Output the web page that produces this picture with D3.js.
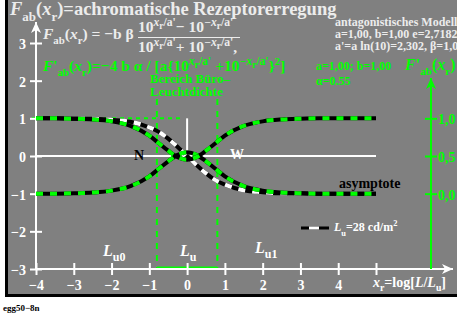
<!DOCTYPE html>
<head>
  <meta charset="utf-8">
  <script src="https://d3js.org/d3.v7.min.js"></script>
  <style>
    body { margin: 0; background: white; }
    svg { display: block; }
    text { font-family: "Liberation Serif", "Times New Roman", serif; font-weight: bold; }
    .axis path { display: none; }
  </style>
</head>

<body>
  <svg width="457" height="316"></svg>

  <script>
    const xVals = [-4, -3.5, -3, -2.5, -2, -1.5, -1, -0.75, -0.5, -0.25, 0, 0.25, 0.5, 0.75, 1, 1.5, 2, 2.5, 3, 3.5, 4, 4.5, 5];
    const fab = [1.00, 1.00, 0.99, 0.99, 0.96, 0.91, 0.76, 0.64, 0.46, 0.24, 0, -0.24, -0.46, -0.64, -0.76, -0.91, -0.96, -0.99, -0.99, -1.00, -1.00, -1.00, -1.00];
    const derivLow = [-1.00, -1.00, -0.99, -0.97, -0.92, -0.80, -0.54, -0.34, -0.14, 0.03, 0.10, 0.03, -0.14, -0.34, -0.54, -0.80, -0.92, -0.97, -0.99, -1.00, -1.00, -1.00, -1.00];
    const derivHigh = [1.00, 1.00, 0.99, 0.97, 0.92, 0.80, 0.54, 0.34, 0.14, -0.03, -0.10, -0.03, 0.14, 0.34, 0.54, 0.80, 0.92, 0.97, 0.99, 1.00, 1.00, 1.00, 1.00];
    const xTicks = [-4, -3, -2, -1, 0, 1, 2, 3, 4, 5];
    const xTickLabels = ['−4', '−3', '−2', '−1', '0', '1', '2', '3', '4', ''];
    const yTicks = [-3, -2, -1, 0, 1, 2, 3];
    const yTickLabels = ['−3', '−2', '−1', '0', '1', '2', '3'];
    const rightTicks = [0, 0.5, 1];
    const rightTickLabels = ['0,0', '0,5', '1,0'];
    const officeRange = [-0.8, 0.8];

    const svg = d3.select('svg');
    const W = 457, H = 316;
    const grey = '#808080', green = '#00ff00', light = '#ececec';

    svg.append('rect').attr('x', 5).attr('y', 0).attr('width', W - 5).attr('height', 297).attr('fill', 'black');
    svg.append('rect').attr('x', 8).attr('y', 0).attr('width', W - 8).attr('height', 294).attr('fill', grey);

    const x = d3.scaleLinear().domain([-4, 5]).range([36, 376]);
    const y = d3.scaleLinear().domain([-3, 3]).range([269, 43]);
    const yR = d3.scaleLinear().domain([0, 1]).range([y(-1), y(1)]);

    // rich text helper: parts = [text, level(em, + is down), italic, scale]
    const rich = (px, py, parts, size, fill, anchor) => {
      const t = svg.append('text').attr('x', px).attr('y', py).attr('font-weight', 'bold')
        .attr('font-size', size).attr('fill', fill).attr('text-anchor', anchor || 'start');
      let off = 0;
      parts.forEach(([s, lvl = 0, it = 0, sc = 1]) => {
        const target = lvl * size;
        const ts = t.append('tspan').text(s).attr('dy', target - off);
        off = target;
        if (it) ts.attr('font-style', 'italic');
        if (sc !== 1) ts.attr('font-size', size * sc);
      });
      return t;
    };
    const expo = (sign) => [[sign + 'x', -0.4, 1, 0.75], ['r', -0.22, 0, 0.6], ['/a\'', -0.4, 0, 0.75]];

    // title and formulas
    rich(10, 15, [['F', 0, 1], ['ab', 0.3, 0, 0.7], ['(', 0], ['x', 0, 1], ['r', 0.3, 0, 0.7], [')=achromatische Rezeptorerregung', 0]], 18.5, light);
    rich(43, 39, [['F', 0, 1], ['ab', 0.3, 0, 0.7], ['(', 0], ['x', 0, 1], ['r', 0.3, 0, 0.7], [') = −b β', 0]], 15.5, light);
    rich(138, 32, [['10', 0], ...expo(''), ['− 10', 0], ...expo('−')], 15.5, light);
    rich(138, 52, [['10', 0], ...expo(''), ['+ 10', 0], ...expo('−'), [',', 0]], 15.5, light);
    svg.append('line').attr('x1', 138).attr('x2', 240).attr('y1', 37.5).attr('y2', 37.5)
      .attr('stroke', light).attr('stroke-width', 1);
    rich(43, 71, [['F', 0, 1], ['\'', 0], ['ab', 0.3, 0, 0.7], ['(', 0], ['x', 0, 1], ['r', 0.3, 0, 0.7],
      [')=−4 b α / [a{10', 0], ...expo(''), [' +10', 0], ...expo('−'), ['}', 0], ['2', -0.4, 0, 0.7], [']', 0]], 15.5, green);

    rich(335, 26, [['antagonistisches Modell']], 12, light);
    rich(335, 38, [['a=1,00, b=1,00 e=2,7182']], 12, light);
    rich(335, 50, [['a\'=a ln(10)=2,302, β=1,0']], 12, light);
    rich(316, 70, [['a=1,00; b=1,00']], 12, green);
    rich(316, 85, [['α=0.55']], 12, green);
    rich(405, 70, [['F', 0, 1], ['\'', 0], ['ab', 0.3, 0, 0.7], ['(', 0], ['x', 0, 1], ['r', 0.3, 0, 0.7], [')', 0]], 16, green);
    rich(150, 83, [['Bereich Büro–']], 13, green);
    rich(150, 96, [['Leuchtdichte']], 13, green);

    // office luminance range
    officeRange.forEach(v => {
      svg.append('line').attr('x1', x(v)).attr('x2', x(v)).attr('y1', 99).attr('y2', y(-3))
        .attr('stroke', green).attr('stroke-width', 2).attr('stroke-dasharray', '6,6');
    });
    svg.append('line').attr('x1', x(officeRange[0])).attr('x2', x(officeRange[1]))
      .attr('y1', y(-3) - 1).attr('y2', y(-3) - 1).attr('stroke', green).attr('stroke-width', 3);
    svg.append('line').attr('x1', 32).attr('x2', 183).attr('y1', y(1)).attr('y2', y(1))
      .attr('stroke', green).attr('stroke-width', 2).attr('stroke-dasharray', '4,4');

    // white guide lines
    svg.append('line').attr('x1', x(-4)).attr('x2', x(5)).attr('y1', y(0)).attr('y2', y(0))
      .attr('stroke', 'white').attr('stroke-width', 2);
    svg.append('line').attr('x1', x(0)).attr('x2', x(0)).attr('y1', y(1)).attr('y2', y(0))
      .attr('stroke', 'white').attr('stroke-width', 2);

    // axes
    const arrow = (x1, y1, x2, y2, col) => {
      svg.append('line').attr('x1', x1).attr('y1', y1).attr('x2', x2).attr('y2', y2)
        .attr('stroke', col).attr('stroke-width', 2);
      const horiz = y1 === y2;
      const pts = horiz ? [[x2, y2], [x2 - 11, y2 - 5], [x2 - 8, y2], [x2 - 11, y2 + 5]]
                        : [[x2, y2], [x2 - 5, y2 + 11], [x2, y2 + 8], [x2 + 5, y2 + 11]];
      svg.append('polygon').attr('points', pts.join(' ')).attr('fill', col);
    };
    arrow(x(-4), y(-3), 453, y(-3), 'white');
    arrow(x(-4), y(-3), x(-4), 22, 'white');
    arrow(431, y(-3), 431, 78, green);

    const xAxis = svg.append('g').attr('class', 'axis').attr('transform', `translate(0,${y(-3)})`)
      .call(d3.axisBottom(x).tickValues(xTicks).tickFormat((d, i) => xTickLabels[i]).tickSize(6).tickPadding(2));
    xAxis.selectAll('line').attr('y1', -6).attr('stroke', 'white').attr('stroke-width', 2);
    xAxis.selectAll('text').attr('fill', 'white').attr('font-size', 14).attr('dy', '0.95em');

    const yAxis = svg.append('g').attr('class', 'axis').attr('transform', `translate(${x(-4)},0)`)
      .call(d3.axisLeft(y).tickValues(yTicks).tickFormat((d, i) => yTickLabels[i]).tickSize(6).tickPadding(4));
    yAxis.selectAll('line').attr('x1', 6).attr('stroke', 'white').attr('stroke-width', 2);
    yAxis.selectAll('text').attr('fill', 'white').attr('font-size', 14).attr('dy', '0.4em');

    const rAxis = svg.append('g').attr('class', 'axis').attr('transform', 'translate(431,0)')
      .call(d3.axisRight(yR).tickValues(rightTicks).tickFormat((d, i) => rightTickLabels[i]).tickSize(6).tickPadding(1));
    rAxis.selectAll('line').attr('x1', -6).attr('stroke', green).attr('stroke-width', 2);
    rAxis.selectAll('text').attr('fill', green).attr('font-size', 14).attr('dy', '0.4em');

    // curves
    const line = d3.line().x(d => x(d[0])).y(d => y(d[1])).curve(d3.curveMonotoneX);
    const dashed = (vals, col) => {
      const pts = xVals.map((v, i) => [v, vals[i]]);
      svg.append('path').attr('d', line(pts)).attr('fill', 'none').attr('stroke', 'black').attr('stroke-width', 4);
      svg.append('path').attr('d', line(pts)).attr('fill', 'none').attr('stroke', col).attr('stroke-width', 4)
        .attr('stroke-dasharray', '7,7');
    };
    dashed(fab, 'white');
    dashed(derivLow, green);
    dashed(derivHigh, green);

    // labels in plot
    rich(134, 160, [['N']], 14, 'black');
    rich(230, 159, [['W']], 14, 'white');
    rich(339, 188, [['asymptote']], 14, 'black');
    rich(103, 256, [['L', 0, 1], ['u0', 0.3, 0, 0.75]], 16, 'white');
    rich(180, 256, [['L', 0, 1], ['u', 0.3, 0, 0.75]], 16, 'white');
    rich(255, 253, [['L', 0, 1], ['u1', 0.3, 0, 0.75]], 16, 'white');
    rich(373, 287, [['x', 0, 1], ['r', 0.3, 0, 0.7], ['=log[', 0], ['L', 0, 1], ['/', 0], ['L', 0, 1], ['u', 0.3, 0, 0.7], [']', 0]], 14, 'white');

    // legend
    svg.append('line').attr('x1', 301).attr('x2', 329).attr('y1', 228).attr('y2', 228)
      .attr('stroke', 'black').attr('stroke-width', 3);
    svg.append('line').attr('x1', 309).attr('x2', 319).attr('y1', 228).attr('y2', 228)
      .attr('stroke', 'white').attr('stroke-width', 3);
    rich(334, 231, [['L', 0, 1], ['u', 0.4, 0, 0.7], ['=28 cd/m', 0], ['2', -0.4, 0, 0.7]], 12, 'white');

    rich(3, 311, [['egg50−8n']], 9, 'black').attr('font-weight', 'normal');
  </script>
</body>
